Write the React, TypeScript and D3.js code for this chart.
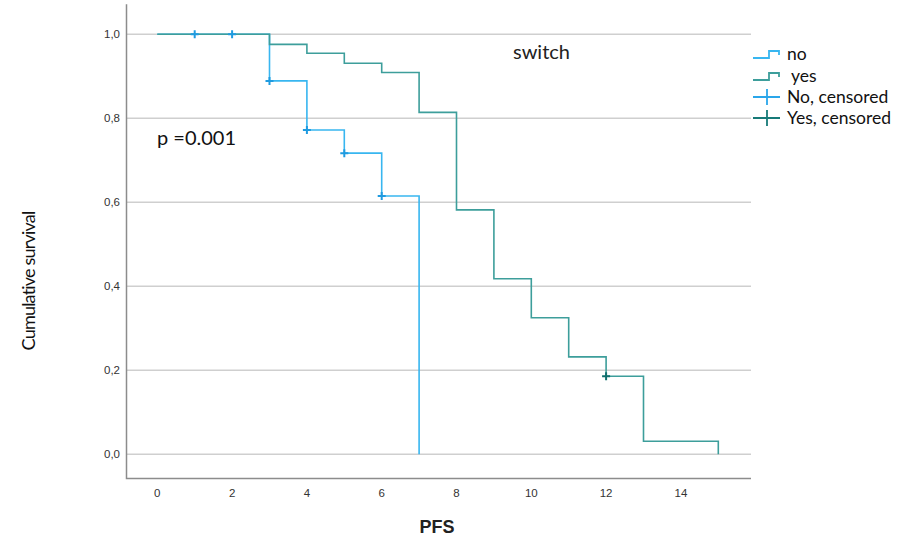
import React, { useEffect, useRef } from "react";
import * as d3 from "d3";

// Kaplan-Meier steps
const noTimes = [0, 3, 4, 5, 6, 7];
const noSurvival = [1, 0.889, 0.772, 0.717, 0.615, 0];
const noCensorTimes = [1, 2, 3, 4, 5, 6];
const noCensorSurvival = [1, 1, 0.889, 0.772, 0.717, 0.615];

const yesTimes = [0, 3, 4, 5, 6, 7, 8, 9, 10, 11, 12, 13, 15];
const yesSurvival = [1, 0.976, 0.955, 0.931, 0.909, 0.814, 0.582, 0.418, 0.325, 0.232, 0.186, 0.031, 0];
const yesCensorTimes = [12];
const yesCensorSurvival = [0.186];

const xTicks = [0, 2, 4, 6, 8, 10, 12, 14];
const yTicks = [0, 0.2, 0.4, 0.6, 0.8, 1.0];

const legendItems = [
    { label: "no", kind: "step", color: "#38b6f0" },
    { label: " yes", kind: "step", color: "#3d9e9b" },
    { label: "No, censored", kind: "plus", color: "#2aa6ea" },
    { label: "Yes, censored", kind: "plus", color: "#177a78" },
];

const COLOR_NO = "#38b6f0";
const COLOR_YES = "#3d9e9b";
const CENSOR_NO = "#1f9be0";
const CENSOR_YES = "#0f6f6d";

const width = 910;
const height = 538;

export default function App() {
    const svgRef = useRef<SVGSVGElement>(null);

    useEffect(() => {
        const svg = d3.select(svgRef.current);
        svg.selectAll("*").remove();

        const x = d3.scaleLinear().domain([0, 15]).range([157.3, 718.3]);
        const y = d3.scaleLinear().domain([0, 1]).range([454.3, 34.3]);
        const frame = { left: 126.5, right: 751, bottom: 478.5 };

        // gridlines
        svg.append("g")
            .selectAll("line")
            .data(yTicks)
            .enter()
            .append("line")
            .attr("x1", frame.left)
            .attr("x2", frame.right)
            .attr("y1", (d) => y(d))
            .attr("y2", (d) => y(d))
            .attr("stroke", "#cfcfcf")
            .attr("stroke-width", 1.5);

        // axes frame (left + bottom)
        svg.append("path")
            .attr("d", `M${frame.left},${y(1) - 30}V${frame.bottom}H${frame.right}`)
            .attr("fill", "none")
            .attr("stroke", "#8c8c8c")
            .attr("stroke-width", 1.5);

        const tickFont = "'Liberation Sans', Arial, sans-serif";
        svg.append("g")
            .selectAll("text")
            .data(yTicks)
            .enter()
            .append("text")
            .attr("x", 120)
            .attr("y", (d) => y(d) + 4)
            .attr("text-anchor", "end")
            .attr("font-family", tickFont)
            .attr("font-size", 11.5)
            .attr("fill", "#333")
            .text((d) => d3.format(".1f")(d).replace(".", ","));

        svg.append("g")
            .selectAll("text")
            .data(xTicks)
            .enter()
            .append("text")
            .attr("x", (d) => x(d))
            .attr("y", 497)
            .attr("text-anchor", "middle")
            .attr("font-family", tickFont)
            .attr("font-size", 11.5)
            .attr("fill", "#333")
            .text((d) => d);

        // step lines
        const stepLine = (times: number[], surv: number[]) =>
            d3.line<number>()
                .x((_, i) => x(times[i]))
                .y((d) => y(d))
                .curve(d3.curveStepAfter)(surv);

        svg.append("path")
            .attr("d", stepLine(noTimes, noSurvival))
            .attr("fill", "none")
            .attr("stroke", COLOR_NO)
            .attr("stroke-width", 1.6);

        svg.append("path")
            .attr("d", stepLine(yesTimes, yesSurvival))
            .attr("fill", "none")
            .attr("stroke", COLOR_YES)
            .attr("stroke-width", 1.6);

        // censor marks
        const drawCensors = (times: number[], surv: number[], color: string) => {
            const g = svg.append("g");
            times.forEach((t, i) => {
                const cx = x(t);
                const cy = y(surv[i]);
                g.append("path")
                    .attr("d", `M${cx - 4},${cy}H${cx + 4}M${cx},${cy - 4}V${cy + 4}`)
                    .attr("stroke", color)
                    .attr("stroke-width", 2)
                    .attr("fill", "none");
            });
        };
        drawCensors(noCensorTimes, noCensorSurvival, CENSOR_NO);
        drawCensors(yesCensorTimes, yesCensorSurvival, CENSOR_YES);

        // legend
        const textFont = "Lato, 'Open Sans', sans-serif";
        const legendY = [54, 76, 97, 118];
        legendItems.forEach((item, i) => {
            const ly = legendY[i];
            if (item.kind === "step") {
                svg.append("path")
                    .attr("d", `M753,${ly + 4}H769V${ly - 3}H779V${ly + 1}`)
                    .attr("fill", "none")
                    .attr("stroke", item.color)
                    .attr("stroke-width", 1.8);
            } else {
                svg.append("path")
                    .attr("d", `M753,${ly}H780M767,${ly - 8}V${ly + 8}`)
                    .attr("fill", "none")
                    .attr("stroke", item.color)
                    .attr("stroke-width", 1.8);
            }
            svg.append("text")
                .attr("x", 787)
                .attr("y", ly + 6)
                .attr("font-family", textFont)
                .attr("font-size", 17.5)
                .attr("fill", "#111")
                .attr("xml:space", "preserve")
                .style("white-space", "pre")
                .text(item.label);
        });

        // annotations
        svg.append("text")
            .attr("x", 513)
            .attr("y", 59)
            .attr("font-family", textFont)
            .attr("font-size", 20)
            .attr("fill", "#222")
            .text("switch");

        svg.append("text")
            .attr("x", 157)
            .attr("y", 145)
            .attr("font-family", textFont)
            .attr("font-size", 20)
            .attr("fill", "#111")
            .text("p =0.001");

        svg.append("text")
            .attr("transform", "translate(35,281) rotate(-90)")
            .attr("text-anchor", "middle")
            .attr("font-family", textFont)
            .attr("font-size", 18)
            .attr("letter-spacing", -0.8)
            .attr("fill", "#111")
            .text("Cumulative survival");

        svg.append("text")
            .attr("x", 437)
            .attr("y", 533)
            .attr("text-anchor", "middle")
            .attr("font-family", tickFont)
            .attr("font-size", 18)
            .attr("font-weight", "bold")
            .attr("fill", "#222")
            .text("PFS");
    }, []);

    return (
        <div style={{ position: "absolute", left: 0, top: 0, width, height, background: "white" }}>
            <svg ref={svgRef} width={width} height={height}></svg>
        </div>
    );
}
